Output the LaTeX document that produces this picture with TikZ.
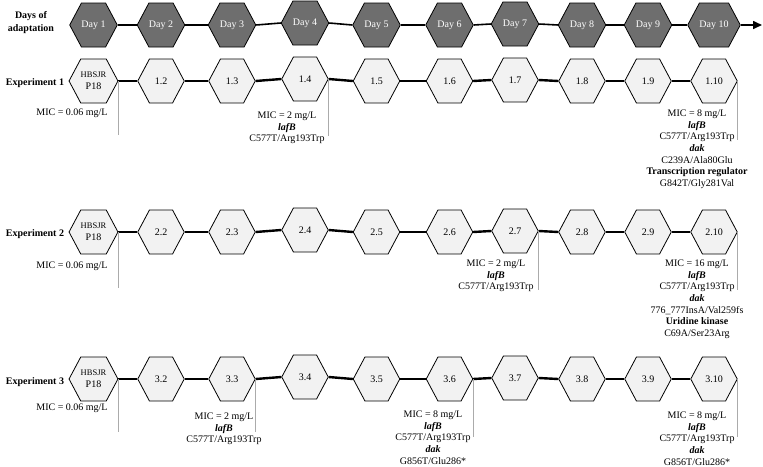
\documentclass[tikz,border=0pt]{standalone}
\usepackage{fontspec}
\setmainfont{Liberation Serif}
\usetikzlibrary{shapes.symbols,arrows.meta}
\definecolor{daygrey}{HTML}{6E6E6E}
\definecolor{isogrey}{HTML}{F2F2F2}
\definecolor{leadgrey}{HTML}{ABABAB}
\newcommand{\gene}[1]{\textbf{\textit{#1}}}

\begin{document}
\begin{tikzpicture}[x=1pt,y=1pt,
  hex/.style={shape=signal, signal to=east and west, signal pointer angle=124,
    minimum width=46.5pt, minimum height=44pt, align=center, draw=black, line width=0.8pt},
  dayhex/.style={hex, fill=daygrey, text=white},
  isohex/.style={hex, fill=isogrey},
  dayline/.style={line width=1.6pt},
  expline/.style={line width=2.4pt},
  lead/.style={draw=leadgrey, line width=0.7pt},
  mic/.style={anchor=north, align=center, font=\fontsize{10}{11.7}\selectfont},
  rowlabel/.style={align=center, font=\fontsize{10}{13}\selectfont\bfseries}]
\tikzstyle{every node}+=[inner sep=0pt, font=\fontsize{10}{12}\selectfont]
\useasboundingbox (0,0) rectangle (763,-466);

% days of adaptation
\node [rowlabel] (days) at (31,-22.5) {Days of\\adaptation};
\node [dayhex] (d1) at (93.5,-25) {Day 1};
\node [dayhex] (d2) at (161,-25) {Day 2};
\node [dayhex] (d3) at (232,-25) {Day 3};
\node [dayhex] (d4) at (305,-23) {Day 4};
\node [dayhex] (d5) at (376.5,-25) {Day 5};
\node [dayhex] (d6) at (449.5,-25) {Day 6};
\node [dayhex] (d7) at (515,-24) {Day 7};
\node [dayhex] (d8) at (582,-25) {Day 8};
\node [dayhex] (d9) at (648,-25) {Day 9};
\node [dayhex] (d10) at (714,-25) {Day 10};
\coordinate (dend) at (762,-25);
\draw [dayline] (d1.east) -- (d2.west);
\draw [dayline] (d2.east) -- (d3.west);
\draw [dayline] (d3.east) -- (d4.west);
\draw [dayline] (d4.east) -- (d5.west);
\draw [dayline] (d5.east) -- (d6.west);
\draw [dayline] (d6.east) -- (d7.west);
\draw [dayline] (d7.east) -- (d8.west);
\draw [dayline] (d8.east) -- (d9.west);
\draw [dayline] (d9.east) -- (d10.west);
\draw [dayline, -{Triangle[length=9pt,width=8pt]}] (d10.east) -- (dend);

% experiment 1
\node [rowlabel] (exp1) at (35,-83) {Experiment 1};
\node [isohex] (a1) at (93.5,-81) {\fontsize{8.5}{10}\selectfont HBSJR\\P18};
\node [isohex] (a2) at (161,-81) {1.2};
\node [isohex] (a3) at (232,-81) {1.3};
\node [isohex] (a4) at (305,-79) {1.4};
\node [isohex] (a5) at (376.5,-81) {1.5};
\node [isohex] (a6) at (449.5,-81) {1.6};
\node [isohex] (a7) at (515,-80) {1.7};
\node [isohex] (a8) at (582,-81) {1.8};
\node [isohex] (a9) at (648,-81) {1.9};
\node [isohex] (a10) at (714,-81) {1.10};
\draw [expline] (a1.east) -- (a2.west);
\draw [expline] (a2.east) -- (a3.west);
\draw [expline] (a3.east) -- (a4.west);
\draw [expline] (a4.east) -- (a5.west);
\draw [expline] (a5.east) -- (a6.west);
\draw [expline] (a6.east) -- (a7.west);
\draw [expline] (a7.east) -- (a8.west);
\draw [expline] (a8.east) -- (a9.west);
\draw [expline] (a9.east) -- (a10.west);
\coordinate (a1foot) at (117,-135);
\coordinate (a4foot) at (328,-136);
\coordinate (a10foot) at (737,-140);
\draw [lead] (a1.east) -- (a1.east |- a1foot);
\draw [lead] (a4.east) -- (a4.east |- a4foot);
\draw [lead] (a10.east) -- (a10.east |- a10foot);
\node [mic] (m1) at (72,-109) {MIC = 0.06 mg/L};
\node [mic] (m4) at (287,-111.5) {MIC = 2 mg/L\\\gene{lafB}\\C577T/Arg193Trp};
\node [mic] (m10) at (697,-109.5) {MIC = 8 mg/L\\\gene{lafB}\\C577T/Arg193Trp\\\gene{dak}\\C239A/Ala80Glu\\\textbf{Transcription regulator}\\G842T/Gly281Val};

% experiment 2
\node [rowlabel] (exp2) at (35,-234) {Experiment 2};
\node [isohex] (b1) at (93.5,-232) {\fontsize{8.5}{10}\selectfont HBSJR\\P18};
\node [isohex] (b2) at (161,-232) {2.2};
\node [isohex] (b3) at (232,-232) {2.3};
\node [isohex] (b4) at (305,-230) {2.4};
\node [isohex] (b5) at (376.5,-232) {2.5};
\node [isohex] (b6) at (449.5,-232) {2.6};
\node [isohex] (b7) at (515,-231) {2.7};
\node [isohex] (b8) at (582,-232) {2.8};
\node [isohex] (b9) at (648,-232) {2.9};
\node [isohex] (b10) at (714,-232) {2.10};
\draw [expline] (b1.east) -- (b2.west);
\draw [expline] (b2.east) -- (b3.west);
\draw [expline] (b3.east) -- (b4.west);
\draw [expline] (b4.east) -- (b5.west);
\draw [expline] (b5.east) -- (b6.west);
\draw [expline] (b6.east) -- (b7.west);
\draw [expline] (b7.east) -- (b8.west);
\draw [expline] (b8.east) -- (b9.west);
\draw [expline] (b9.east) -- (b10.west);
\coordinate (b1foot) at (117,-288);
\coordinate (b7foot) at (538,-290);
\coordinate (b10foot) at (737,-290);
\draw [lead] (b1.east) -- (b1.east |- b1foot);
\draw [lead] (b7.east) -- (b7.east |- b7foot);
\draw [lead] (b10.east) -- (b10.east |- b10foot);
\node [mic] (n1) at (72,-261.5) {MIC = 0.06 mg/L};
\node [mic] (n7) at (496,-259.5) {MIC = 2 mg/L\\\gene{lafB}\\C577T/Arg193Trp};
\node [mic] (n10) at (697,-259.5) {MIC = 16 mg/L\\\gene{lafB}\\C577T/Arg193Trp\\\gene{dak}\\776\_777InsA/Val259fs\\\textbf{Uridine kinase}\\C69A/Ser23Arg};

% experiment 3
\node [rowlabel] (exp3) at (35,-382) {Experiment 3};
\node [isohex] (c1) at (93.5,-379) {\fontsize{8.5}{10}\selectfont HBSJR\\P18};
\node [isohex] (c2) at (161,-379) {3.2};
\node [isohex] (c3) at (232,-379) {3.3};
\node [isohex] (c4) at (305,-377) {3.4};
\node [isohex] (c5) at (376.5,-379) {3.5};
\node [isohex] (c6) at (449.5,-379) {3.6};
\node [isohex] (c7) at (515,-378) {3.7};
\node [isohex] (c8) at (582,-379) {3.8};
\node [isohex] (c9) at (648,-379) {3.9};
\node [isohex] (c10) at (714,-379) {3.10};
\draw [expline] (c1.east) -- (c2.west);
\draw [expline] (c2.east) -- (c3.west);
\draw [expline] (c3.east) -- (c4.west);
\draw [expline] (c4.east) -- (c5.west);
\draw [expline] (c5.east) -- (c6.west);
\draw [expline] (c6.east) -- (c7.west);
\draw [expline] (c7.east) -- (c8.west);
\draw [expline] (c8.east) -- (c9.west);
\draw [expline] (c9.east) -- (c10.west);
\coordinate (c1foot) at (117,-432);
\coordinate (c3foot) at (256,-432);
\coordinate (c6foot) at (473,-437);
\coordinate (c10foot) at (737,-437);
\draw [lead] (c1.east) -- (c1.east |- c1foot);
\draw [lead] (c3.east) -- (c3.east |- c3foot);
\draw [lead] (c6.east) -- (c6.east |- c6foot);
\draw [lead] (c10.east) -- (c10.east |- c10foot);
\node [mic] (o1) at (72,-403.5) {MIC = 0.06 mg/L};
\node [mic] (o3) at (224,-412.5) {MIC = 2 mg/L\\\gene{lafB}\\C577T/Arg193Trp};
\node [mic] (o6) at (433,-410.5) {MIC = 8 mg/L\\\gene{lafB}\\C577T/Arg193Trp\\\gene{dak}\\G856T/Glu286*};
\node [mic] (o10) at (697,-411.5) {MIC = 8 mg/L\\\gene{lafB}\\C577T/Arg193Trp\\\gene{dak}\\G856T/Glu286*};
\end{tikzpicture}
\end{document}
